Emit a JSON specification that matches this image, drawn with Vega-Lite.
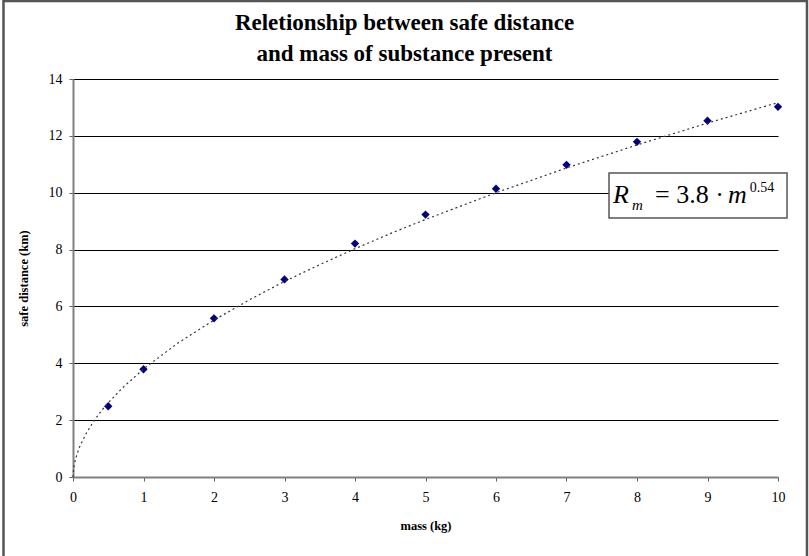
{
  "$schema": "https://vega.github.io/schema/vega-lite/v6.json",
  "width": 705,
  "height": 398,
  "autosize": {"type": "none"},
  "padding": {"left": 73, "top": 79, "right": 31, "bottom": 79},
  "background": "white",
  "title": {
    "text": ["Reletionship between safe distance", "and mass of substance present"],
    "font": "Liberation Serif",
    "fontSize": 23,
    "fontWeight": "bold",
    "lineHeight": 31,
    "anchor": "middle",
    "baseline": "top",
    "offset": 0,
    "dy": 66,
    "dx": -21,
    "color": "black"
  },
  "datasets": {
    "points": [
      {"mass": 0.5, "distance": 2.49},
      {"mass": 1, "distance": 3.79},
      {"mass": 2, "distance": 5.58},
      {"mass": 3, "distance": 6.95},
      {"mass": 4, "distance": 8.21},
      {"mass": 5, "distance": 9.23},
      {"mass": 6, "distance": 10.14},
      {"mass": 7, "distance": 10.98},
      {"mass": 8, "distance": 11.79},
      {"mass": 9, "distance": 12.53},
      {"mass": 10, "distance": 13.02}
    ],
    "trend": [
      {"mass": 0, "distance": 0},
      {"mass": 0.01, "distance": 0.32},
      {"mass": 0.03, "distance": 0.57},
      {"mass": 0.06, "distance": 0.83},
      {"mass": 0.1, "distance": 1.1},
      {"mass": 0.2, "distance": 1.59},
      {"mass": 0.3, "distance": 1.98},
      {"mass": 0.4, "distance": 2.32},
      {"mass": 0.5, "distance": 2.61},
      {"mass": 0.7, "distance": 3.13},
      {"mass": 1, "distance": 3.8},
      {"mass": 1.5, "distance": 4.73},
      {"mass": 2, "distance": 5.52},
      {"mass": 2.5, "distance": 6.23},
      {"mass": 3, "distance": 6.88},
      {"mass": 3.5, "distance": 7.47},
      {"mass": 4, "distance": 8.03},
      {"mass": 4.5, "distance": 8.56},
      {"mass": 5, "distance": 9.06},
      {"mass": 6, "distance": 10.0},
      {"mass": 7, "distance": 10.87},
      {"mass": 8, "distance": 11.68},
      {"mass": 9, "distance": 12.45},
      {"mass": 10, "distance": 13.17}
    ]
  },
  "layer": [
    {
      "data": {"name": "points"},
      "mark": {"type": "point", "shape": "diamond", "filled": true, "color": "#000080", "size": 70, "opacity": 1},
      "encoding": {
        "x": {
          "field": "mass", "type": "quantitative",
          "scale": {"domain": [0, 10], "nice": false, "zero": true},
          "axis": {
            "title": "mass (kg)",
            "values": [0, 1, 2, 3, 4, 5, 6, 7, 8, 9, 10],
            "format": "d",
            "grid": false,
            "tickSize": 4,
            "labelPadding": 9,
            "titleY": 42,
            "titleBaseline": "top"
          }
        },
        "y": {
          "field": "distance", "type": "quantitative",
          "scale": {"domain": [0, 14], "nice": false, "zero": true},
          "axis": {
            "title": "safe distance (km)",
            "values": [0, 2, 4, 6, 8, 10, 12, 14],
            "format": "d",
            "grid": true,
            "tickSize": 4,
            "labelPadding": 7,
            "titleX": -43,
            "titleY": 199
          }
        }
      }
    },
    {
      "data": {"name": "trend"},
      "mark": {"type": "line", "color": "#333333", "strokeWidth": 1.2, "strokeDash": [2, 3]},
      "encoding": {
        "x": {"field": "mass", "type": "quantitative"},
        "y": {"field": "distance", "type": "quantitative"}
      }
    },
    {
      "data": {"values": [{}]},
      "mark": {"type": "rect", "fill": null, "stroke": "#555555", "strokeWidth": 2.5, "clip": false},
      "encoding": {
        "x": {"datum": -0.986, "type": "quantitative"},
        "x2": {"datum": 10.411},
        "y": {"datum": 16.74, "type": "quantitative"},
        "y2": {"datum": -3.5}
      }
    },
    {
      "data": {"values": [{}]},
      "mark": {"type": "rect", "fill": "white", "stroke": "#555555", "strokeWidth": 1.5},
      "encoding": {
        "x": {"datum": 7.603, "type": "quantitative"},
        "x2": {"datum": 10.128},
        "y": {"datum": 10.69, "type": "quantitative"},
        "y2": {"datum": 9.11}
      }
    },
    {
      "data": {"values": [{}]},
      "mark": {"type": "text", "text": "R", "font": "Liberation Serif", "fontStyle": "italic", "fontSize": 26, "align": "left", "baseline": "alphabetic", "color": "black"},
      "encoding": {"x": {"datum": 7.66, "type": "quantitative"}, "y": {"datum": 9.64, "type": "quantitative"}}
    },
    {
      "data": {"values": [{}]},
      "mark": {"type": "text", "text": "m", "font": "Liberation Serif", "fontStyle": "italic", "fontSize": 15, "align": "left", "baseline": "alphabetic", "color": "black"},
      "encoding": {"x": {"datum": 7.93, "type": "quantitative"}, "y": {"datum": 9.39, "type": "quantitative"}}
    },
    {
      "data": {"values": [{}]},
      "mark": {"type": "text", "text": "= 3.8 ·", "font": "Liberation Serif", "fontSize": 26, "align": "left", "baseline": "alphabetic", "color": "black"},
      "encoding": {"x": {"datum": 8.255, "type": "quantitative"}, "y": {"datum": 9.64, "type": "quantitative"}}
    },
    {
      "data": {"values": [{}]},
      "mark": {"type": "text", "text": "m", "font": "Liberation Serif", "fontStyle": "italic", "fontSize": 26, "align": "left", "baseline": "alphabetic", "color": "black"},
      "encoding": {"x": {"datum": 9.29, "type": "quantitative"}, "y": {"datum": 9.64, "type": "quantitative"}}
    },
    {
      "data": {"values": [{}]},
      "mark": {"type": "text", "text": "0.54", "font": "Liberation Serif", "fontSize": 14, "align": "left", "baseline": "alphabetic", "color": "black"},
      "encoding": {"x": {"datum": 9.6, "type": "quantitative"}, "y": {"datum": 10.02, "type": "quantitative"}}
    }
  ],
  "config": {
    "view": {"stroke": null},
    "axis": {
      "labelFont": "Liberation Serif",
      "labelFontSize": 14,
      "labelColor": "black",
      "titleFont": "Liberation Serif",
      "titleFontSize": 12.5,
      "titleFontWeight": "bold",
      "titleColor": "black",
      "domainColor": "#808080",
      "domainWidth": 2,
      "tickColor": "#606060",
      "tickWidth": 1,
      "gridColor": "black",
      "gridWidth": 1,
      "gridOpacity": 1,
      "labelFlush": false,
      "labelOverlap": false
    }
  }
}
